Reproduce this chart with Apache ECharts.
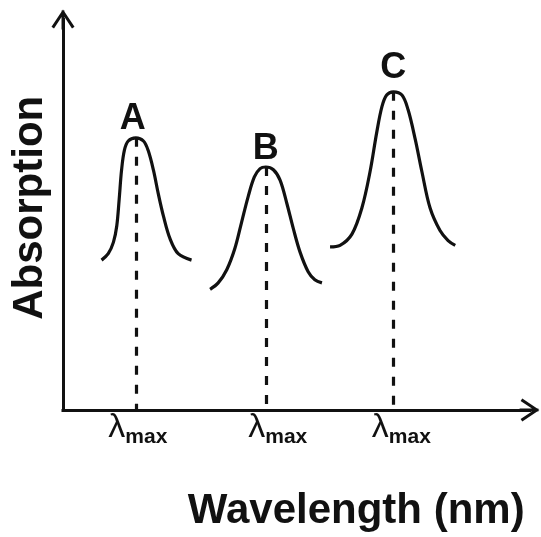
<!DOCTYPE html>
<html>
<head>
<meta charset="utf-8">
<script src="https://cdn.jsdelivr.net/npm/echarts@6/dist/echarts.min.js"></script>
<style>
html,body{margin:0;padding:0;background:#ffffff;}
#chart{width:541px;height:537px;}
</style>
</head>
<body>
<div id="chart"></div>
<script>
// ---- data (arbitrary units) ----
const peakNames = ['A', 'B', 'C'];
const peakWavelength = [15.3, 42.6, 69.4];
const peakAbsorption = [68.1, 60.8, 79.6];

const curveA = [[8.1,37.5],[9.5,39.1],[10.6,42.0],[11.3,46.1],[11.8,52.7],[12.3,60.0],[12.9,65.0],[13.7,67.3],[15.3,68.1],[16.9,67.3],[17.9,64.9],[19.0,60.0],[20.0,54.2],[21.1,48.5],[22.5,42.8],[24.2,39.1],[27.0,37.5]];
const curveB = [[30.9,30.2],[32.6,31.8],[34.4,35.1],[36.1,40.4],[37.5,46.9],[38.9,53.4],[40.2,58.3],[41.4,60.4],[42.6,60.8],[44.2,60.1],[45.6,57.5],[47.0,51.8],[48.4,45.3],[49.8,39.5],[51.5,34.6],[52.9,32.6],[54.4,31.8]];
const curveC = [[56.1,40.8],[58.2,41.2],[60.7,44.0],[62.8,50.6],[64.5,59.6],[65.9,69.4],[67.0,75.9],[68.0,78.8],[69.4,79.6],[71.2,78.8],[72.5,75.1],[74.0,67.7],[75.4,59.6],[77.1,50.6],[79.2,44.9],[80.9,42.4],[82.4,41.2]];

const xAxisName = 'Wavelength (nm)';
const yAxisName = 'Absorption';
const tickLabelGreek = 'λ';
const tickLabelSub = 'max';

// ---- styles ----
const INK = '#111111';
const FONT = '"Liberation Sans", Arial, Helvetica, sans-serif';
const arrowPath = 'path://M11,0 L22,16.4 L19.6,18 L11,5 L2.4,18 L0,16.4 Z M9.6,1 L12.4,1 L12.4,19 L9.6,19 Z';
const peakLabelOffset = [[-3, 2], [0, 3], [0, -3]];
const tickLabelOffset = [[2, 0], [12, 0], [8, 0]];

const axisCommon = {
  type: 'value',
  axisLine: {
    show: true,
    symbol: ['none', arrowPath],
    symbolSize: [23, 20],
    lineStyle: { color: INK, width: 3, cap: 'square' }
  },
  axisTick: { show: false },
  axisLabel: { show: false },
  splitLine: { show: false }
};

const chart = echarts.init(document.getElementById('chart'), null, { renderer: 'canvas' });

const curveSeries = [curveA, curveB, curveC].map((c, i) => ({
  name: 'peak ' + peakNames[i],
  type: 'line',
  data: c,
  smooth: 0.35,
  symbol: 'none',
  lineStyle: { color: INK, width: 3.2 },
  z: 3
}));

const option = {
  animation: false,
  backgroundColor: '#ffffff',
  grid: { left: 63, top: 19.5, right: 11.5, bottom: 119, containLabel: false },
  xAxis: Object.assign({}, axisCommon, {
    min: 0, max: 98,
    name: xAxisName,
    nameLocation: 'middle',
    nameGap: 80,
    nameTextStyle: { fontSize: 42, fontWeight: 'bold', color: INK, fontFamily: FONT, padding: [0, 0, 0, 120] }
  }),
  yAxis: Object.assign({}, axisCommon, {
    min: 0, max: 97.7,
    name: yAxisName,
    nameLocation: 'middle',
    nameRotate: 90,
    nameGap: 12,
    nameTextStyle: { fontSize: 42, fontWeight: 'bold', color: INK, fontFamily: FONT, padding: [0, 0, 0, 14] }
  }),
  series: curveSeries.concat([
    {
      name: 'lambda max lines',
      type: 'scatter',
      data: [],
      markLine: {
        silent: true,
        symbol: ['none', 'none'],
        label: { show: false },
        lineStyle: { color: INK, width: 3.2, type: [9, 10], opacity: 1 },
        data: peakWavelength.map((x, i) => [
          { coord: [x, peakAbsorption[i]] },
          { coord: [x, 0] }
        ])
      },
      z: 2
    },
    {
      name: 'peak labels',
      type: 'scatter',
      symbol: 'circle',
      symbolSize: 1,
      itemStyle: { color: 'rgba(0,0,0,0)', opacity: 1 },
      data: peakWavelength.map((x, i) => ({
        value: [x, peakAbsorption[i]],
        name: peakNames[i],
        label: { offset: peakLabelOffset[i] }
      })),
      label: {
        show: true,
        position: 'top',
        distance: 2,
        formatter: p => p.name,
        fontSize: 36,
        fontWeight: 'bold',
        fontFamily: FONT,
        color: INK,
        opacity: 1
      },
      z: 4
    },
    {
      name: 'tick labels',
      type: 'scatter',
      symbol: 'circle',
      symbolSize: 1,
      itemStyle: { color: 'rgba(0,0,0,0)', opacity: 1 },
      data: peakWavelength.map((x, i) => ({
        value: [x, 0],
        label: { offset: tickLabelOffset[i] }
      })),
      label: {
        show: true,
        position: 'bottom',
        distance: 0,
        opacity: 1,
        formatter: '{l|' + tickLabelGreek + '}{s|' + tickLabelSub + '}',
        rich: {
          l: { fontSize: 34, fontFamily: FONT, color: INK, verticalAlign: 'bottom', lineHeight: 34 },
          s: { fontSize: 21, fontWeight: 'bold', fontFamily: FONT, color: INK, verticalAlign: 'bottom', lineHeight: 34, padding: [0, 0, -3, 0] }
        }
      },
      z: 4
    }
  ])
};

chart.setOption(option);
</script>
</body>
</html>
